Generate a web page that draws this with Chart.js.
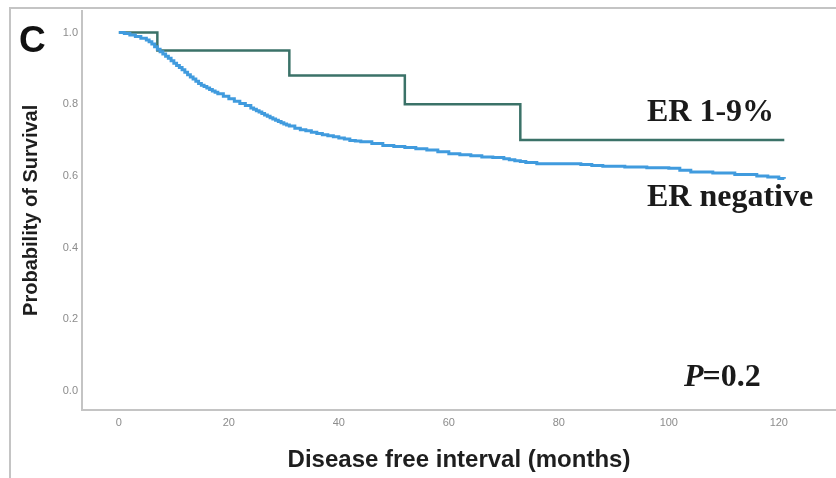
<!DOCTYPE html>
<html>
<head>
<meta charset="utf-8">
<title>Disease free interval by ER status</title>
<script src="https://cdn.jsdelivr.net/npm/chart.js@4.4.1/dist/chart.umd.min.js"></script>
<style>
  html, body { margin: 0; padding: 0; background: #ffffff; }
  #wrap { width: 836px; height: 478px; }
</style>
</head>
<body>
<div id="wrap"><canvas id="km" width="836" height="478"></canvas></div>
<script>
// Kaplan-Meier estimates (months, survival probability after each drop)
const erLowMonths   = [0, 7, 31, 52, 73, 121];
const erLowSurvival = [1.0, 0.95, 0.88, 0.80, 0.70, 0.70];

const erNegMonths = [0, 1, 2, 3, 4, 5, 5.5, 6, 6.5, 7, 7.5, 8, 8.5, 9, 9.5, 10, 10.5, 11, 11.5,
  12, 12.5, 13, 13.5, 14, 14.5, 15, 15.5, 16, 16.5, 17, 17.5, 18, 19,
  20, 21, 22, 23, 24, 24.5, 25, 25.5, 26, 26.5, 27, 27.5, 28, 28.5, 29, 29.5,
  30, 30.5, 31, 32, 33, 34, 35, 36, 37, 38, 39, 40, 41, 42, 43,
  44, 46, 48, 50, 52, 54, 56, 58, 60, 62, 64, 66, 68, 70, 71, 72, 73, 74, 76, 80, 84, 86,
  88, 92, 96, 100, 102, 104, 108, 112, 116, 118, 120, 121];
const erNegSurvival = [1.0, 0.997, 0.993, 0.989, 0.984, 0.979, 0.974, 0.968, 0.960, 0.953,
  0.946, 0.940, 0.934, 0.928, 0.921, 0.914, 0.908, 0.902, 0.896,
  0.889, 0.882, 0.876, 0.870, 0.864, 0.858, 0.853, 0.849, 0.845, 0.841, 0.837, 0.833, 0.829, 0.822,
  0.815, 0.808, 0.802, 0.796, 0.789, 0.786, 0.782, 0.778, 0.774, 0.770, 0.766, 0.762, 0.759, 0.755, 0.752, 0.748,
  0.745, 0.742, 0.739, 0.733, 0.729, 0.726, 0.722, 0.718, 0.715, 0.712, 0.709, 0.706, 0.703, 0.699, 0.697,
  0.695, 0.690, 0.685, 0.682, 0.679, 0.676, 0.672, 0.667, 0.662, 0.659,
  0.656, 0.653, 0.651, 0.648, 0.645, 0.642, 0.640, 0.637, 0.634, 0.634, 0.632, 0.629,
  0.627, 0.625, 0.623, 0.621, 0.616, 0.611, 0.608, 0.604, 0.600, 0.597,
  0.593, 0.592];

const xTickValues = [0, 20, 40, 60, 80, 100, 120];
const yTickValues = [0.0, 0.2, 0.4, 0.6, 0.8, 1.0];

const panelLetter = 'C';
const xTitle = 'Disease free interval (months)';
const yTitle = 'Probability of Survival';
const lowLabel = 'ER 1-9%';
const negLabel = 'ER negative';
const pValueText = '=0.2';

const toPoints = (xs, ys) => xs.map((x, i) => ({ x: x, y: ys[i] }));

const frameGrey = '#c4c4c4';
const tickGrey = '#8c8c8c';

// Outer frame lines and text annotations
const annotate = {
  id: 'annotate',
  beforeDraw(chart) {
    const ctx = chart.ctx;
    ctx.save();
    ctx.strokeStyle = frameGrey;
    ctx.lineWidth = 2;
    ctx.beginPath();
    ctx.moveTo(10, 478);
    ctx.lineTo(10, 8);
    ctx.lineTo(836, 8);
    ctx.stroke();
    ctx.restore();
  },
  afterDraw(chart) {
    const ctx = chart.ctx;
    ctx.save();
    ctx.fillStyle = '#111111';
    ctx.textBaseline = 'alphabetic';
    ctx.textAlign = 'left';
    ctx.font = 'bold 37px "Liberation Sans", Arial, sans-serif';
    ctx.fillText(panelLetter, 19, 52);

    ctx.fillStyle = '#1a1a1a';
    ctx.font = 'bold 32px "Liberation Serif", "Times New Roman", serif';
    ctx.fillText(lowLabel, 647, 121);
    ctx.fillText(negLabel, 647, 206);

    ctx.font = 'italic bold 32px "Liberation Serif", "Times New Roman", serif';
    ctx.fillText('P', 684, 386);
    const pw = ctx.measureText('P').width;
    ctx.font = 'bold 32px "Liberation Serif", "Times New Roman", serif';
    ctx.fillText(pValueText, 684 + pw - 1, 386);
    ctx.restore();
  }
};

new Chart(document.getElementById('km'), {
  type: 'line',
  data: {
    datasets: [
      {
        label: negLabel,
        data: toPoints(erNegMonths, erNegSurvival),
        stepped: true,
        borderColor: '#409bde',
        borderWidth: 3,
        pointRadius: 0,
        fill: false
      },
      {
        label: lowLabel,
        data: toPoints(erLowMonths, erLowSurvival),
        stepped: true,
        borderColor: '#3b7268',
        borderWidth: 2.5,
        pointRadius: 0,
        fill: false
      }
    ]
  },
  options: {
    responsive: false,
    animation: false,
    devicePixelRatio: 1,
    layout: { padding: { top: 8, left: 0, right: 0, bottom: 0 } },
    plugins: {
      legend: { display: false },
      tooltip: { enabled: false }
    },
    scales: {
      x: {
        type: 'linear',
        min: -6.7,
        max: 130.4,
        afterBuildTicks(scale) { scale.ticks = xTickValues.map(v => ({ value: v })); },
        afterFit(scale) { scale.height = 68; },
        grid: { display: false, drawTicks: false },
        border: { display: true, color: frameGrey, width: 2 },
        ticks: {
          color: tickGrey,
          padding: 6,
          maxRotation: 0,
          font: { family: '"Liberation Sans", Arial, sans-serif', size: 11 },
          callback: v => String(v)
        },
        title: {
          display: true,
          text: xTitle,
          color: '#1e1e1e',
          font: { family: '"Liberation Sans", Arial, sans-serif', size: 24, weight: 'bold' },
          padding: { top: 0, bottom: 3 }
        }
      },
      y: {
        type: 'linear',
        min: -0.053,
        max: 1.061,
        afterBuildTicks(scale) { scale.ticks = yTickValues.map(v => ({ value: v })); },
        afterFit(scale) { scale.width = 82; },
        grid: { display: false, drawTicks: false },
        border: { display: true, color: frameGrey, width: 2 },
        ticks: {
          color: tickGrey,
          padding: 4,
          font: { family: '"Liberation Sans", Arial, sans-serif', size: 11 },
          callback: v => Number(v).toFixed(1)
        },
        title: {
          display: true,
          text: yTitle,
          color: '#1e1e1e',
          font: { family: '"Liberation Sans", Arial, sans-serif', size: 20, weight: 'bold' },
          padding: { top: 19, bottom: 0 }
        }
      }
    }
  },
  plugins: [annotate]
});
</script>
</body>
</html>
